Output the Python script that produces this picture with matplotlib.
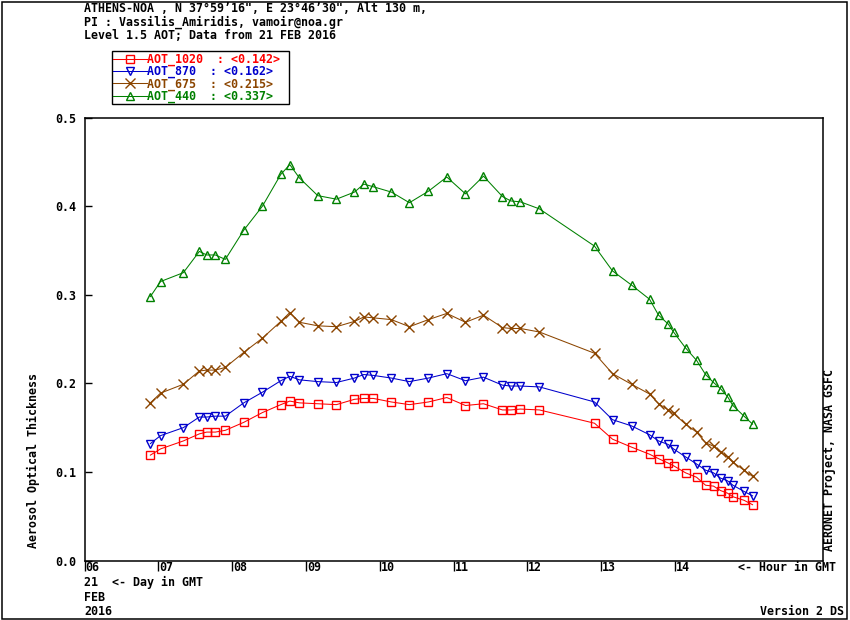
import matplotlib
matplotlib.use("Agg")
import matplotlib.pyplot as plt
import matplotlib.transforms as mtransforms
from matplotlib.patches import Rectangle

# ---------------- data ----------------
hours = [6.890, 7.028, 7.337, 7.554, 7.654, 7.771, 7.906, 8.156, 8.408, 8.658,
         8.780, 8.910, 9.159, 9.412, 9.656, 9.783, 9.913, 10.157, 10.401, 10.659,
         10.908, 11.161, 11.405, 11.662, 11.776, 11.906, 12.164, 12.910, 13.154,
         13.412, 13.656, 13.778, 13.909, 13.981, 14.144, 14.293, 14.415, 14.523,
         14.618, 14.713, 14.786, 14.936, 15.052]

aot_1020 = [0.119, 0.126, 0.135, 0.143, 0.145, 0.145, 0.147, 0.156, 0.167, 0.176,
            0.180, 0.178, 0.177, 0.176, 0.182, 0.183, 0.183, 0.179, 0.176, 0.179,
            0.184, 0.175, 0.177, 0.170, 0.170, 0.171, 0.170, 0.155, 0.137, 0.128,
            0.120, 0.115, 0.110, 0.107, 0.099, 0.094, 0.085, 0.084, 0.079, 0.076,
            0.072, 0.068, 0.063]

aot_870 = [0.132, 0.141, 0.150, 0.162, 0.162, 0.163, 0.163, 0.178, 0.190, 0.203,
           0.208, 0.204, 0.202, 0.201, 0.206, 0.210, 0.209, 0.206, 0.202, 0.206,
           0.211, 0.203, 0.207, 0.198, 0.197, 0.197, 0.196, 0.179, 0.159, 0.152,
           0.142, 0.135, 0.131, 0.126, 0.117, 0.109, 0.102, 0.099, 0.093, 0.090,
           0.085, 0.078, 0.073]

aot_675 = [0.178, 0.189, 0.199, 0.214, 0.215, 0.215, 0.218, 0.235, 0.251, 0.270,
           0.280, 0.269, 0.265, 0.264, 0.270, 0.275, 0.274, 0.272, 0.264, 0.272,
           0.279, 0.269, 0.277, 0.263, 0.262, 0.262, 0.258, 0.234, 0.211, 0.199,
           0.188, 0.177, 0.170, 0.166, 0.154, 0.145, 0.133, 0.129, 0.122, 0.117,
           0.111, 0.102, 0.095]

aot_440 = [0.298, 0.315, 0.325, 0.349, 0.345, 0.345, 0.340, 0.373, 0.400, 0.436,
           0.447, 0.432, 0.412, 0.408, 0.416, 0.425, 0.422, 0.416, 0.404, 0.417,
           0.433, 0.414, 0.434, 0.411, 0.406, 0.405, 0.397, 0.355, 0.327, 0.311,
           0.295, 0.277, 0.267, 0.258, 0.240, 0.226, 0.210, 0.201, 0.194, 0.185,
           0.175, 0.163, 0.154]

series_names = ["AOT_1020", "AOT_870", "AOT_675", "AOT_440"]
series_means = ["0.142", "0.162", "0.215", "0.337"]
x_ticks = [6, 7, 8, 9, 10, 11, 12, 13, 14]
x_tick_labels = ["06", "07", "08", "09", "10", "11", "12", "13", "14"]
y_ticks = [0.0, 0.1, 0.2, 0.3, 0.4, 0.5]
y_tick_labels = ["0.0", "0.1", "0.2", "0.3", "0.4", "0.5"]

header_lines = ["ATHENS-NOA , N 37\u00b059\u201916\", E 23\u00b046\u201930\", Alt 130 m,",
                "PI : Vassilis_Amiridis, vamoir@noa.gr",
                "Level 1.5 AOT; Data from 21 FEB 2016"]

# ---------------- style ----------------
W, H = 850, 620
FS = 8.4
FONT = "DejaVu Sans Mono"
plt.rcParams["font.family"] = FONT
plt.rcParams["font.weight"] = "bold"

fig = plt.figure(figsize=(W / 100, H / 100), dpi=100)
fig.patch.set_facecolor("white")

def fx(px):
    return px / W

def fy(py):
    return 1 - py / H

left, right, top, bottom = 84.7, 822.5, 117.7, 560.5
ax = fig.add_axes([fx(left), fy(bottom), fx(right) - fx(left), fy(top) - fy(bottom)])

colors = ["#FF0000", "#0000CC", "#8B4500", "#008000"]
markers = ["s", "v", "x", "^"]
msizes = [6.2, 6.2, 7.5, 6.2]
data = [aot_1020, aot_870, aot_675, aot_440]

handles = []
for name, mean, vals, c, m, ms in zip(series_names, series_means, data, colors, markers, msizes):
    label = f"{name}  : <{mean}> "
    h, = ax.plot(hours, vals, color=c, lw=0.75, marker=m, ms=ms,
                 mfc="none", mec=c, mew=1.0, label=label)
    handles.append(h)

ax.set_xlim(6, 16)
ax.set_ylim(0, 0.5)
ax.set_xticks(x_ticks)
ax.set_xticklabels(x_tick_labels, ha="left", fontsize=FS, fontweight="bold")
ax.set_yticks(y_ticks)
ax.set_yticklabels(y_tick_labels, fontsize=FS, fontweight="bold")
ax.tick_params(axis="x", direction="out", length=7.2, width=1.0, pad=-6.8)
ax.tick_params(axis="y", direction="in", length=5.0, width=1.0, pad=5.8)
for s in ax.spines.values():
    s.set_linewidth(1.1)
    s.set_color("black")

# place x tick labels just right of the tick line
offset = mtransforms.ScaledTranslation(0.8 / 100, 0, fig.dpi_scale_trans)
for lab in ax.get_xticklabels():
    lab.set_transform(lab.get_transform() + offset)

# legend
leg = fig.legend(handles=handles, loc="upper left",
                 bbox_to_anchor=(fx(112.0), fy(51.2)),
                 prop={"family": FONT, "weight": "bold", "size": FS},
                 frameon=True, fancybox=False, framealpha=1, edgecolor="black",
                 handlelength=2.9, handletextpad=0.0, borderpad=0.12,
                 labelspacing=-0.08, borderaxespad=0.0)
leg.get_frame().set_linewidth(1.0)
for t, c in zip(leg.get_texts(), colors):
    t.set_color(c)

# header
for i, line in enumerate(header_lines):
    fig.text(fx(84), fy(9 + 13.4 * i), line, fontsize=FS, fontweight="bold",
             ha="left", va="center", color="black")

# axis titles / annotations
fig.text(fx(33), fy(460), "Aerosol Optical Thickness", rotation=90,
         fontsize=FS, fontweight="bold", ha="center", va="center")
fig.text(fx(830), fy(460), "AERONET Project, NASA GSFC", rotation=90,
         fontsize=FS, fontweight="bold", ha="center", va="center")
fig.text(fx(738), fy(567.5), "<- Hour in GMT", fontsize=FS, fontweight="bold",
         ha="left", va="center")
fig.text(fx(84), fy(582.5), "21  <- Day in GMT", fontsize=FS, fontweight="bold",
         ha="left", va="center")
fig.text(fx(84), fy(597.5), "FEB", fontsize=FS, fontweight="bold",
         ha="left", va="center")
fig.text(fx(84), fy(611.5), "2016", fontsize=FS, fontweight="bold",
         ha="left", va="center")
fig.text(fx(844), fy(611.5), "Version 2 DS", fontsize=FS, fontweight="bold",
         ha="right", va="center")

# figure border
fig.patches.append(Rectangle((fx(1.5), fy(618.5)), fx(847) - fx(1.5), fy(1.5) - fy(618.5),
                             transform=fig.transFigure, fill=False,
                             edgecolor="black", linewidth=1.1))

fig.savefig("out.png", dpi=100, facecolor="white")
